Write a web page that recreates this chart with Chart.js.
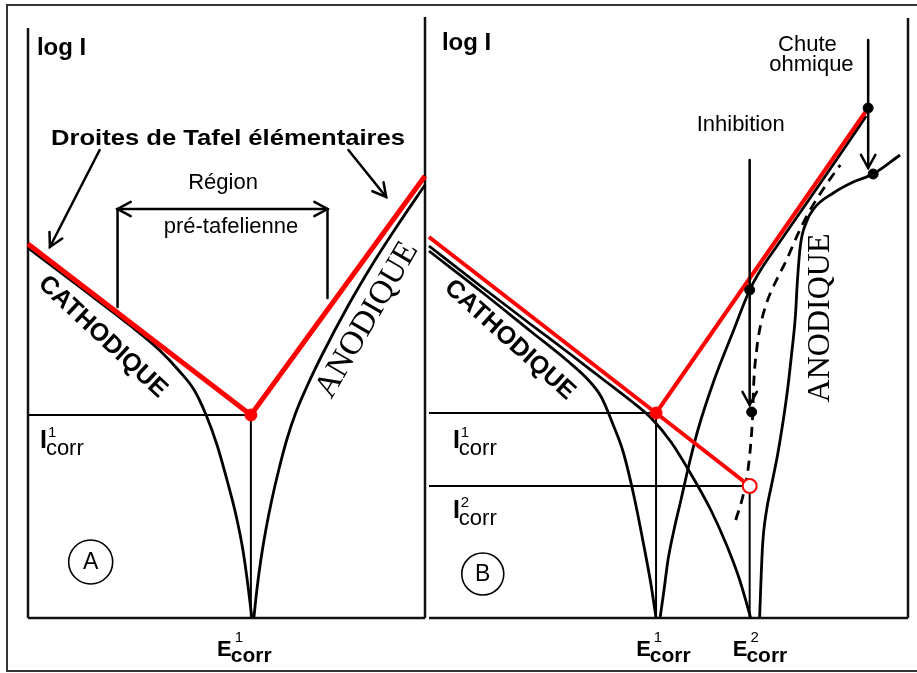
<!DOCTYPE html>
<html lang="fr">
<head>
<meta charset="UTF-8">
<title>Droites de Tafel – inhibition et chute ohmique</title>
<style>
  body { margin: 0; background: #fff; }
  .page { position: relative; width: 917px; height: 673px; overflow: hidden; background: #fff; }
  .frame { position: absolute; left: 6px; top: 4px; width: 930px; height: 664px; border: 2px solid #333; }
  canvas { position: absolute; top: 0; }
  #panelA { left: 0; }
  #panelB { left: 420px; }
</style>
</head>
<body>
<div class="page">
  <div class="frame"></div>
  <canvas id="panelA" width="432" height="673"></canvas>
  <canvas id="panelB" width="497" height="673"></canvas>
</div>

<script src="https://cdn.jsdelivr.net/npm/chart.js"></script>
<script>
// E in mV relative to E1corr, log I in arbitrary decades

// Panel A : one electrode, Tafel lines + real polarisation curve
const tafelA_E = [-224, 0, 175];
const tafelA_logI = [3.74, 2.03, 4.42];
const cathA_E = [-224, -172, -122, -92, -72, -57, -45, -34, -24, -15, -8, -3, 1];
const cathA_logI = [3.70, 3.31, 2.93, 2.68, 2.47, 2.28, 2.03, 1.73, 1.38, 1.03, 0.68, 0.33, 0];
const anodA_E = [3, 6, 10, 15, 21, 28, 36, 45, 57, 71, 97, 123, 149, 175];
const anodA_logI = [0, 0.28, 0.58, 0.88, 1.18, 1.48, 1.78, 2.05, 2.33, 2.62, 3.11, 3.55, 3.95, 4.33];
const ecorrA = [0];
const icorrA = [2.03];

// Panel B : inhibition of the anodic reaction and ohmic drop
const tafelB_cathE = [-228, 0, 94];
const tafelB_cathLogI = [3.81, 2.05, 1.32];
const tafelB_anodE = [0, 213];
const tafelB_anodLogI = [2.05, 5.10];
const cathB1_E = [-228, -175, -125, -90, -68, -55, -43, -33, -22, -12, -5, 0];
const cathB1_logI = [3.67, 3.26, 2.86, 2.58, 2.38, 2.21, 1.93, 1.66, 1.21, 0.71, 0.33, 0];
const cathB2_E = [-228, -175, -125, -85, -55, -25, -5, 15, 35, 55, 70, 83, 90, 95];
const cathB2_logI = [3.72, 3.31, 2.93, 2.63, 2.40, 2.17, 2.00, 1.76, 1.44, 1.08, 0.75, 0.41, 0.18, 0];
const anodB1_E = [4, 8, 12, 18, 25, 33, 42, 58, 78, 94, 105, 120, 145, 170, 190, 211];
const anodB1_logI = [0, 0.28, 0.58, 0.88, 1.18, 1.53, 1.88, 2.37, 2.88, 3.28, 3.48, 3.70, 4.06, 4.42, 4.71, 5.02];
const inhibB_E = [80, 87, 92, 95, 97, 98, 101, 105, 111, 120, 131, 142, 153, 172, 185];
const inhibB_logI = [0.98, 1.21, 1.46, 1.73, 2.03, 2.33, 2.68, 2.93, 3.15, 3.36, 3.58, 3.83, 4.05, 4.35, 4.53];
const ohmB_E = [104, 105, 107, 111, 116, 122, 127, 132, 136, 140, 142, 145, 151, 159, 178, 198, 218, 245];
const ohmB_logI = [0, 0.28, 0.73, 1.08, 1.33, 1.63, 1.93, 2.28, 2.63, 3.03, 3.38, 3.73, 3.96, 4.10, 4.25, 4.36, 4.44, 4.63];
const dotsB_E = [213, 218, 94, 96];
const dotsB_logI = [5.10, 4.44, 3.28, 2.06];
const ecorrB = [0, 94];
const icorrB = [2.05, 1.32];

const RED = '#f00';
const SANS = '"Liberation Sans", Arial, sans-serif';
const SERIF = '"Liberation Serif", "Times New Roman", serif';

const pts = (xs, ys) => xs.map((x, i) => ({ x: x, y: ys[i] }));

function curve(xs, ys, color, width, extra) {
    return Object.assign({
        data: pts(xs, ys), borderColor: color, borderWidth: width,
        pointRadius: 0, fill: false, clip: false,
        tension: 0.4, cubicInterpolationMode: 'monotone'
    }, extra || {});
}
function straight(xs, ys, color, width) {
    return curve(xs, ys, color, width, { tension: 0, cubicInterpolationMode: 'default' });
}
function marks(xs, ys, radius, fillColor, strokeColor, strokeWidth) {
    return {
        data: pts(xs, ys), showLine: false, clip: false,
        pointRadius: radius, pointBackgroundColor: fillColor,
        pointBorderColor: strokeColor, pointBorderWidth: strokeWidth
    };
}

// ---- canvas drawing helpers ----
function P(chart, e, l) {
    return [chart.scales.x.getPixelForValue(e), chart.scales.y.getPixelForValue(l)];
}
function line(ctx, a, b, w) {
    ctx.lineWidth = w || 2;
    ctx.beginPath(); ctx.moveTo(a[0], a[1]); ctx.lineTo(b[0], b[1]); ctx.stroke();
}
function head(ctx, from, tip, size) {
    const a = Math.atan2(tip[1] - from[1], tip[0] - from[0]);
    ctx.lineWidth = 2.5;
    ctx.beginPath();
    ctx.moveTo(tip[0] - size * Math.cos(a - 0.5), tip[1] - size * Math.sin(a - 0.5));
    ctx.lineTo(tip[0], tip[1]);
    ctx.lineTo(tip[0] - size * Math.cos(a + 0.5), tip[1] - size * Math.sin(a + 0.5));
    ctx.stroke();
}
function arrow(ctx, from, tip, size) {
    line(ctx, from, tip, 2.5);
    head(ctx, from, tip, size || 15);
}
function text(ctx, str, p, font, opts) {
    opts = opts || {};
    ctx.save();
    ctx.translate(p[0], p[1]);
    if (opts.rotate) ctx.rotate(opts.rotate * Math.PI / 180);
    ctx.font = font;
    ctx.textAlign = opts.align || 'center';
    ctx.textBaseline = opts.baseline || 'middle';
    if (opts.width) ctx.scale(opts.width / ctx.measureText(str).width, 1);
    ctx.fillStyle = '#000';
    ctx.fillText(str, 0, 0);
    ctx.restore();
}
// symbol with superscript index and "corr" subscript, p = left / baseline
function corr(ctx, sym, idx, p, s) {
    ctx.save();
    ctx.fillStyle = '#000';
    ctx.textAlign = 'left';
    ctx.textBaseline = 'alphabetic';
    ctx.font = s.main;
    ctx.fillText(sym, p[0], p[1]);
    const w = ctx.measureText(sym).width;
    ctx.font = s.sup;
    ctx.fillText(idx, p[0] + w + s.supDx, p[1] + s.supDy);
    ctx.font = s.sub;
    ctx.fillText('corr', p[0] + w - 1, p[1] + s.subDy);
    ctx.restore();
}
const I_STYLE = { main: 'bold 25px ' + SANS, sup: '15px ' + SANS, sub: '22px ' + SANS, supDx: 1, supDy: -11, subDy: 7 };
const E_STYLE = { main: 'bold 22px ' + SANS, sup: '15px ' + SANS, sub: 'bold 21px ' + SANS, supDx: 3, supDy: -14, subDy: 6 };

function circled(ctx, letter, p, r) {
    ctx.lineWidth = 1.6;
    ctx.beginPath(); ctx.arc(p[0], p[1], r, 0, Math.PI * 2); ctx.stroke();
    text(ctx, letter, [p[0], p[1] + 1], '23px ' + SANS);
}

function makeChart(id, xMin, xMax, padding, datasets, frame, extras) {
    return new Chart(document.getElementById(id), {
        type: 'line',
        data: { datasets: datasets },
        options: {
            responsive: false,
            animation: false,
            devicePixelRatio: 1,
            layout: { padding: padding },
            plugins: { legend: { display: false }, tooltip: { enabled: false } },
            scales: {
                x: { type: 'linear', min: xMin, max: xMax, display: false },
                y: { type: 'linear', min: 0, max: 6, display: false }
            }
        },
        plugins: [{
            id: 'extras',
            beforeDatasetsDraw(chart) {
                const ctx = chart.ctx;
                ctx.save();
                ctx.strokeStyle = '#111';
                frame(chart, ctx);
                ctx.restore();
            },
            afterDatasetsDraw(chart) {
                const ctx = chart.ctx;
                ctx.save();
                ctx.strokeStyle = '#000';
                ctx.lineCap = 'round';
                extras(chart, ctx);
                ctx.restore();
            }
        }]
    });
}

// ---- Panel A ----
makeChart('panelA', -224, 175, { left: 28, right: 5, top: 18, bottom: 55 }, [
    marks([ecorrA[0]], [icorrA[0]], 6, RED, RED, 1),
    straight(tafelA_E, tafelA_logI, RED, 5),
    curve(cathA_E, cathA_logI, '#000', 2.8),
    curve(anodA_E, anodA_logI, '#000', 2.8),
    straight([-224, ecorrA[0]], [icorrA[0], icorrA[0]], '#000', 2),
    straight([ecorrA[0], ecorrA[0]], [icorrA[0], 0], '#000', 2)
], (c, ctx) => {
    const a = c.chartArea;
    line(ctx, [a.left, P(c, 0, 5.90)[1]], [a.left, a.bottom], 2.5);
    line(ctx, [a.left, a.bottom], [a.right, a.bottom], 2.5);
    line(ctx, [a.right, a.top - 1], [a.right, a.bottom], 2.5);
}, (c, ctx) => {
    text(ctx, 'log I', P(c, -215, 5.70), 'bold 24px ' + SANS, { align: 'left' });
    text(ctx, 'Droites de Tafel élémentaires', P(c, -23, 4.79), 'bold 22px ' + SANS, { width: 354 });
    text(ctx, 'Région', P(c, -28, 4.35), '22px ' + SANS);
    text(ctx, 'pré-tafelienne', P(c, -20, 3.91), '22px ' + SANS);

    // pre-Tafel region bracket
    const l = P(c, -134, 4.09), r = P(c, 77, 4.09);
    line(ctx, l, P(c, -134, 3.11), 2.5);
    line(ctx, r, P(c, 77, 3.20), 2.5);
    line(ctx, l, r, 2.5);
    head(ctx, r, l, 15);
    head(ctx, l, r, 15);

    arrow(ctx, P(c, -152, 4.68), P(c, -202, 3.71));
    arrow(ctx, P(c, 98, 4.68), P(c, 136, 4.21));

    text(ctx, 'CATHODIQUE', P(c, -149, 2.81), 'bold 25px ' + SANS, { rotate: 43 });
    text(ctx, 'ANODIQUE', P(c, 117, 2.98), '33px ' + SERIF, { rotate: -60 });

    corr(ctx, 'I', '1', P(c, -212, 1.70), I_STYLE);
    corr(ctx, 'E', '1', P(c, -34, -0.38), E_STYLE);
    circled(ctx, 'A', P(c, -161, 0.56), 22);
});

// ---- Panel B ----
makeChart('panelB', -228, 253, { left: 7, right: 9, top: 18, bottom: 55 }, [
    marks(dotsB_E, dotsB_logI, 5, '#000', '#000', 1),
    marks([ecorrB[0]], [icorrB[0]], 6, RED, RED, 1),
    marks([ecorrB[1]], [icorrB[1]], 7, '#fff', RED, 2),
    straight(tafelB_cathE, tafelB_cathLogI, RED, 4),
    straight(tafelB_anodE, tafelB_anodLogI, RED, 4),
    curve(inhibB_E, inhibB_logI, '#000', 2.8, { borderDash: [10, 7] }),
    curve(cathB1_E, cathB1_logI, '#000', 2.8),
    curve(cathB2_E, cathB2_logI, '#000', 2.8),
    curve(anodB1_E, anodB1_logI, '#000', 2.8),
    curve(ohmB_E, ohmB_logI, '#000', 2.8),
    straight([-228, ecorrB[0]], [icorrB[0], icorrB[0]], '#000', 2),
    straight([-228, ecorrB[1]], [icorrB[1], icorrB[1]], '#000', 2),
    straight([ecorrB[0], ecorrB[0]], [icorrB[0], 0], '#000', 2),
    straight([ecorrB[1], ecorrB[1]], [icorrB[1], 0], '#000', 2)
], (c, ctx) => {
    const a = c.chartArea;
    line(ctx, [a.left, a.bottom], [a.right, a.bottom], 2.5);
    line(ctx, [a.right, a.top], [a.right, a.bottom], 2.5);
}, (c, ctx) => {
    text(ctx, 'log I', P(c, -215, 5.75), 'bold 24px ' + SANS, { align: 'left' });
    text(ctx, 'Inhibition', P(c, 85, 4.93), '22px ' + SANS);
    text(ctx, 'Chute', P(c, 152, 5.73), '22px ' + SANS);
    text(ctx, 'ohmique', P(c, 156, 5.53), '22px ' + SANS);

    arrow(ctx, P(c, 94, 4.58), P(c, 94, 2.13));
    arrow(ctx, P(c, 213, 5.78), P(c, 213, 4.50));

    text(ctx, 'CATHODIQUE', P(c, -147, 2.78), 'bold 25px ' + SANS, { rotate: 42 });
    text(ctx, 'ANODIQUE', P(c, 165, 3.00), '32px ' + SERIF, { rotate: -90 });

    corr(ctx, 'I', '1', P(c, -204, 1.70), I_STYLE);
    corr(ctx, 'I', '2', P(c, -204, 1.00), I_STYLE);
    corr(ctx, 'E', '1', P(c, -20, -0.38), E_STYLE);
    corr(ctx, 'E', '2', P(c, 77, -0.38), E_STYLE);
    circled(ctx, 'B', P(c, -174, 0.44), 21);
});
</script>
</body>
</html>
